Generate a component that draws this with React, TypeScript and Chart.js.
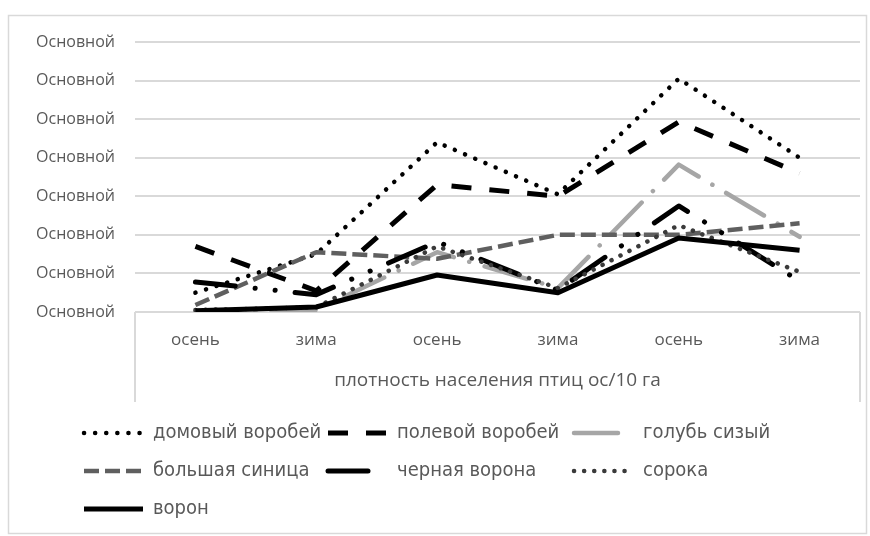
import { useEffect, useRef } from 'react';
import { Chart, registerables } from 'chart.js';

Chart.register(...registerables);

// ---------- data ----------
const categories = ['осень', 'зима', 'осень', 'зима', 'осень', 'зима'];
const yTickLabel = 'Основной';
const axisTitle = 'плотность населения птиц ос/10 га';

const seriesNames = [
  'домовый воробей',
  'полевой воробей',
  'голубь сизый',
  'большая синица',
  'черная ворона',
  'сорока',
  'ворон',
];

const domovyVorobey = [0.5, 1.5, 4.4, 3.05, 6.05, 4.0];
const polevoyVorobey = [1.7, 0.55, 3.3, 3.0, 4.93, 3.6];
const golubSizy = [0.0, 0.05, 1.55, 0.62, 3.82, 1.95];
const bolshayaSinitsa = [0.18, 1.55, 1.38, 2.0, 2.0, 2.3];
const chernayaVorona = [0.78, 0.45, 1.82, 0.57, 2.75, 0.8];
const soroka = [0.05, 0.12, 1.7, 0.62, 2.25, 1.04];
const voron = [0.03, 0.13, 0.96, 0.5, 1.92, 1.6];

const seriesValues = [domovyVorobey, polevoyVorobey, golubSizy, bolshayaSinitsa, chernayaVorona, soroka, voron];

// ---------- styles ----------
const seriesStyles = [
  { color: '#000000', width: 4.5, dash: [0.1, 11], cap: 'round' },
  { color: '#000000', width: 5, dash: [20, 18], cap: 'butt' },
  { color: '#a6a6a6', width: 4.5, dash: [44, 16, 0.1, 16], cap: 'round' },
  { color: '#5f5f5f', width: 4.5, dash: [15, 6], cap: 'butt' },
  { color: '#000000', width: 5, dash: [40, 20, 0.1, 20, 0.1, 20], cap: 'round' },
  { color: '#3a3a3a', width: 4.5, dash: [0.1, 10], cap: 'round' },
  { color: '#000000', width: 5, dash: [], cap: 'butt' },
];

const TEXT_COLOR = '#595959';
const GRID_COLOR = '#d9d9d9';
const LEGEND_COLS = [84, 328, 574];
const LEGEND_ROWS = [433, 471, 509];
const SAMPLE_LEN = 59;
const TEXT_OFFSET = 69;
const LEGEND_FONT = "20px 'DejaVu Sans Condensed', 'Liberation Sans Narrow', sans-serif";

const framePlugin = {
  id: 'excelFrame',
  afterDraw(chart: any) {
    const ctx = chart.ctx;
    const area = chart.chartArea;
    ctx.save();
    // outer border
    ctx.strokeStyle = GRID_COLOR;
    ctx.lineWidth = 1.5;
    ctx.setLineDash([]);
    ctx.strokeRect(8.5, 15.5, 858, 518);
    // category axis box edges
    ctx.lineWidth = 2;
    ctx.beginPath();
    ctx.moveTo(Math.round(area.left), area.bottom);
    ctx.lineTo(Math.round(area.left), 402);
    ctx.moveTo(Math.round(area.right), area.bottom);
    ctx.lineTo(Math.round(area.right), 402);
    ctx.stroke();
    // legend
    chart.data.datasets.forEach((ds: any, i: number) => {
      const row = Math.floor(i / 3);
      const col = i % 3;
      const x0 = LEGEND_COLS[col];
      const y = LEGEND_ROWS[row];
      ctx.strokeStyle = ds.borderColor;
      ctx.lineWidth = ds.borderWidth;
      ctx.setLineDash(ds.borderDash || []);
      ctx.lineCap = ds.borderCapStyle || 'butt';
      ctx.beginPath();
      ctx.moveTo(x0, y);
      ctx.lineTo(x0 + SAMPLE_LEN, y);
      ctx.stroke();
      ctx.setLineDash([]);
      ctx.fillStyle = TEXT_COLOR;
      ctx.font = LEGEND_FONT;
      ctx.textBaseline = 'middle';
      ctx.textAlign = 'left';
      ctx.fillText(ds.label, x0 + TEXT_OFFSET, y);
    });
    ctx.restore();
  },
};

export default function App() {
  const canvasRef = useRef<HTMLCanvasElement | null>(null);

  useEffect(() => {
    const canvas = canvasRef.current;
    if (!canvas) return;
    const datasets = seriesNames.map((name, i) => ({
      label: name,
      data: seriesValues[i],
      borderColor: seriesStyles[i].color,
      backgroundColor: seriesStyles[i].color,
      borderWidth: seriesStyles[i].width,
      borderDash: seriesStyles[i].dash,
      borderCapStyle: seriesStyles[i].cap,
      borderJoinStyle: 'round',
      pointRadius: 0,
      pointHoverRadius: 0,
      tension: 0,
      fill: false,
      order: seriesNames.length - i,
    }));
    const chart = new Chart(canvas, {
      type: 'line',
      data: { labels: categories, datasets: datasets as any },
      options: {
        responsive: false,
        animation: false,
        devicePixelRatio: 1,
        layout: { padding: { top: 42, right: 10, bottom: 144, left: 0 } },
        plugins: {
          legend: { display: false },
          tooltip: { enabled: false },
        },
        scales: {
          x: {
            offset: true,
            grid: { display: false, drawTicks: false },
            border: { display: false },
            ticks: {
              color: TEXT_COLOR,
              padding: 18,
              maxRotation: 0,
              font: { family: "'Open Sans', sans-serif", size: 17 },
            },
            title: {
              display: true,
              text: axisTitle,
              color: TEXT_COLOR,
              padding: 0,
              font: { family: "'Open Sans', sans-serif", size: 19 },
            },
            afterFit(scale: any) {
              scale.height = 80;
            },
          },
          y: {
            min: 0,
            max: 7,
            ticks: {
              stepSize: 1,
              padding: 20,
              color: TEXT_COLOR,
              font: { family: "'Open Sans', sans-serif", size: 16 },
              callback: () => yTickLabel,
            },
            grid: { color: GRID_COLOR, lineWidth: 2, drawTicks: false },
            border: { display: false },
            afterFit(scale: any) {
              scale.width = 135;
            },
          },
        },
      },
      plugins: [framePlugin],
    });
    return () => chart.destroy();
  }, []);

  return (
    <div style={{ position: 'absolute', left: 0, top: 0, width: 870, height: 536 }}>
      <canvas ref={canvasRef} width={870} height={536} style={{ display: 'block' }} />
    </div>
  );
}
